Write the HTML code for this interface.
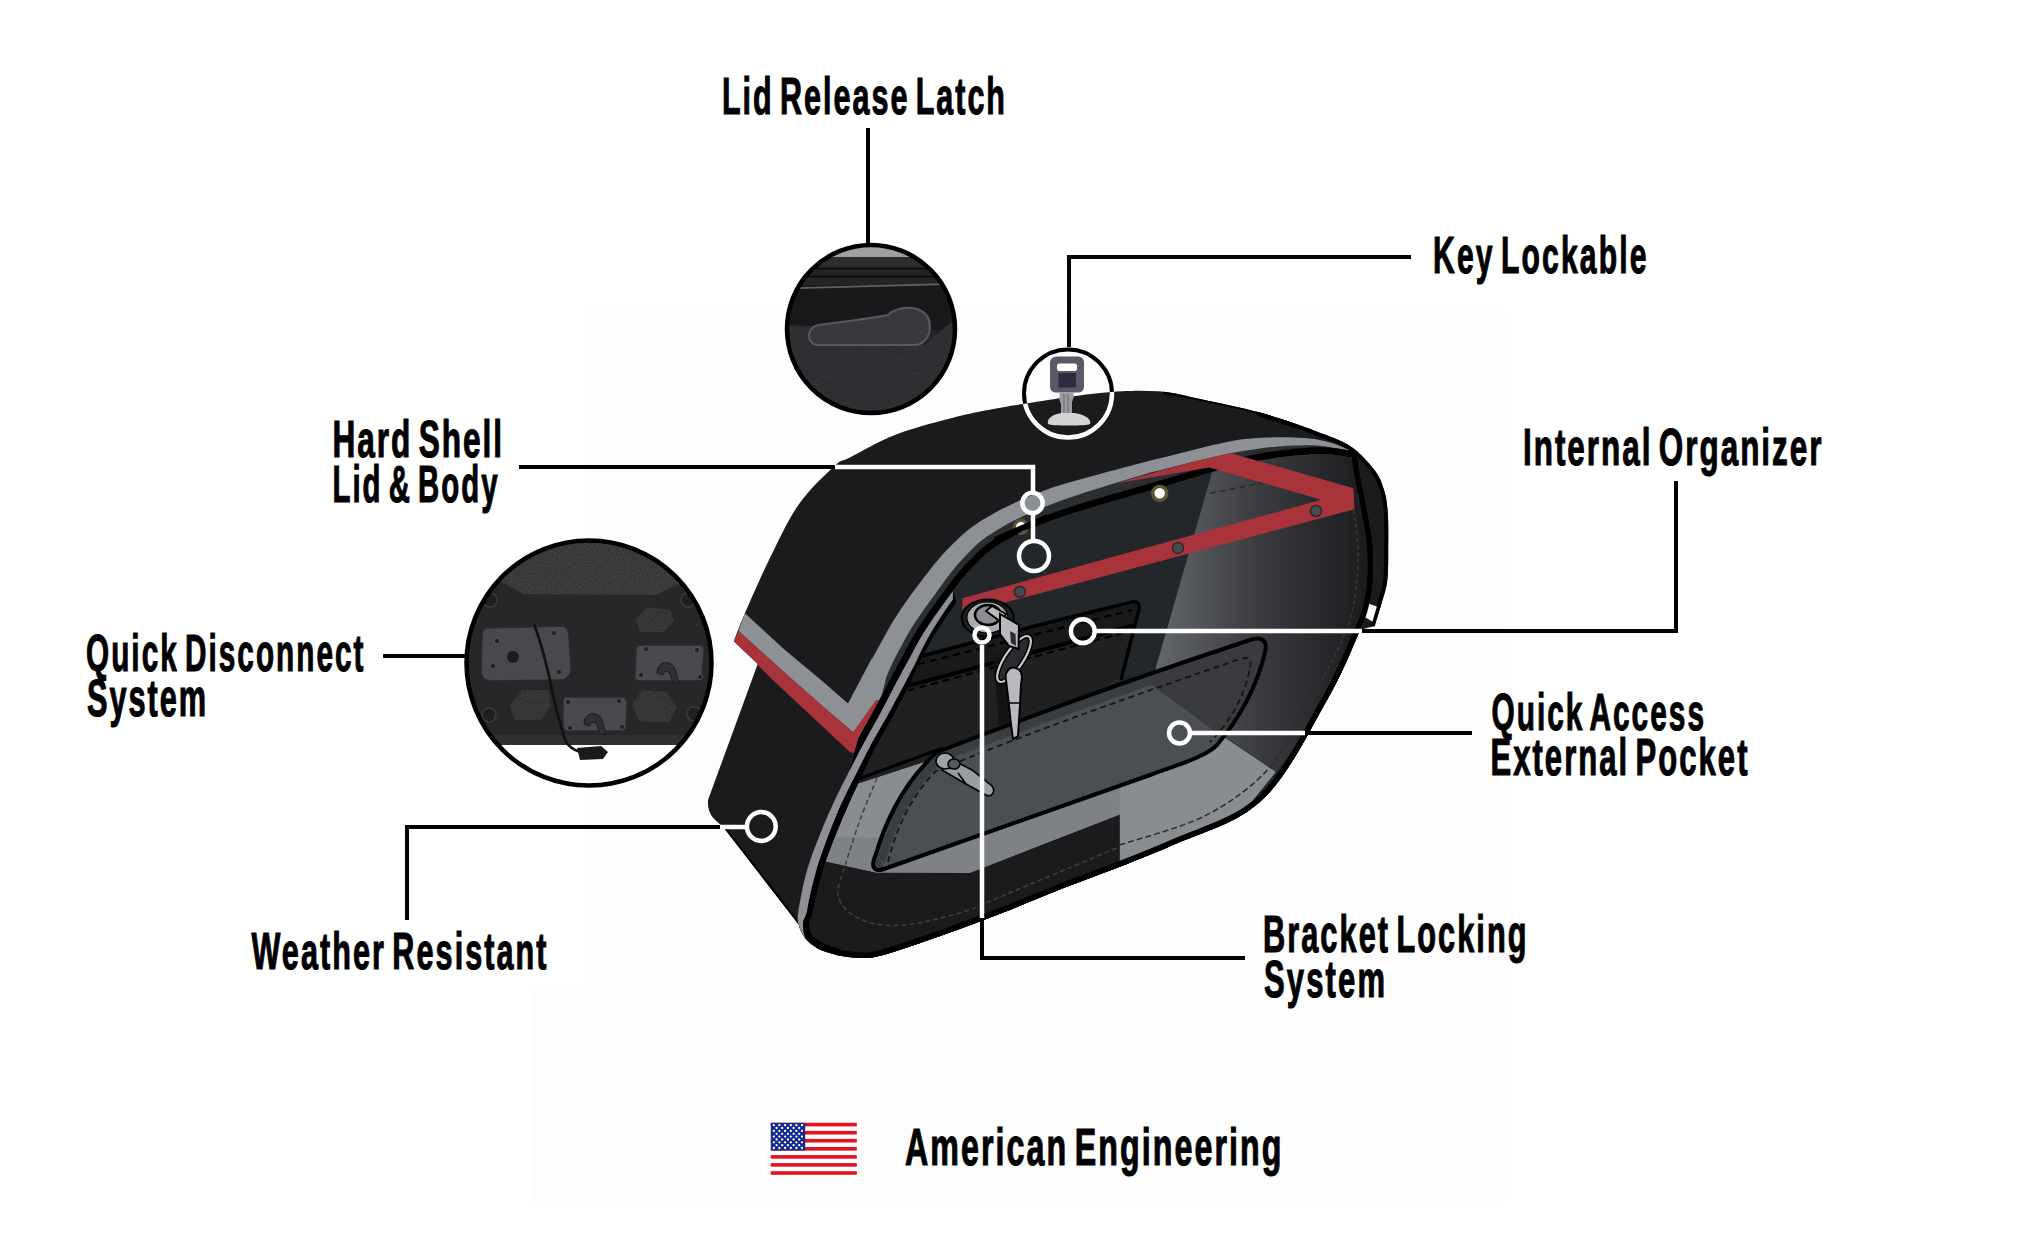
<!DOCTYPE html>
<html><head><meta charset="utf-8">
<style>
html,body{margin:0;padding:0;background:#fff;width:2044px;height:1248px;overflow:hidden}
svg{display:block}
.t{font-family:"Liberation Sans",sans-serif;font-weight:bold;fill:#000}
</style></head><body>
<svg width="2044" height="1248" viewBox="0 0 2044 1248">
<rect x="585" y="310" width="920" height="893" fill="#fdfdfd"/>
<rect x="533" y="990" width="60" height="213" fill="#fdfdfd"/>
<g id="bag">
<defs><clipPath id="silclip"><path d="M733.7 641.3 C735.6 636.6 739.0 626.8 744.9 613.2 C750.8 599.7 760.1 578.0 769.0 560.0 C777.9 542.0 787.4 520.7 798.3 505.0 C809.2 489.3 826.0 473.9 834.6 466.0 C843.2 458.1 839.9 462.7 850.0 457.5 C860.1 452.3 878.3 441.5 895.0 435.0 C911.7 428.5 931.7 423.2 950.0 418.5 C968.3 413.8 980.0 411.2 1005.0 407.0 C1030.0 402.8 1074.5 395.6 1100.0 393.0 C1125.5 390.4 1141.3 390.2 1158.0 391.2 C1174.7 392.2 1183.0 395.4 1200.0 399.0 C1217.0 402.6 1240.8 407.3 1260.0 412.6 C1279.2 417.9 1300.0 425.3 1315.0 430.9 C1330.0 436.5 1340.1 439.5 1350.0 446.0 C1359.9 452.5 1368.7 462.7 1374.4 470.0 C1380.1 477.3 1381.8 483.0 1384.0 490.0 C1386.2 497.0 1387.0 503.2 1387.7 512.0 C1388.4 520.8 1388.3 531.7 1388.2 543.0 C1388.1 554.3 1388.5 569.7 1387.3 580.0 C1386.1 590.3 1383.2 597.3 1381.0 605.0 C1378.8 612.7 1375.2 622.5 1374.0 626.0 L1360 630 C1354.5 641.7 1343.3 671.7 1327.0 700.0 C1310.7 728.3 1288.2 775.6 1262.0 800.0 C1235.8 824.4 1204.3 831.0 1170.0 846.2 C1135.7 861.4 1084.3 879.8 1056.0 891.0 C1027.7 902.2 1020.5 905.8 1000.0 913.7 C979.5 921.6 953.0 931.5 933.0 938.5 C913.0 945.5 892.4 952.6 880.0 955.8 C867.6 959.0 865.3 957.8 858.5 957.7 C851.7 957.7 845.4 957.0 839.0 955.5 C832.6 954.0 825.5 951.9 820.0 949.0 C814.5 946.1 809.5 942.0 806.0 938.0 C802.5 934.0 800.2 927.2 799.0 925.0 L723 826.7 C715 820 707 815 708 800 L757.7 664 Z"/></clipPath></defs>
<path d="M733.7 641.3 C735.6 636.6 739.0 626.8 744.9 613.2 C750.8 599.7 760.1 578.0 769.0 560.0 C777.9 542.0 787.4 520.7 798.3 505.0 C809.2 489.3 826.0 473.9 834.6 466.0 C843.2 458.1 839.9 462.7 850.0 457.5 C860.1 452.3 878.3 441.5 895.0 435.0 C911.7 428.5 931.7 423.2 950.0 418.5 C968.3 413.8 980.0 411.2 1005.0 407.0 C1030.0 402.8 1074.5 395.6 1100.0 393.0 C1125.5 390.4 1141.3 390.2 1158.0 391.2 C1174.7 392.2 1183.0 395.4 1200.0 399.0 C1217.0 402.6 1240.8 407.3 1260.0 412.6 C1279.2 417.9 1300.0 425.3 1315.0 430.9 C1330.0 436.5 1340.1 439.5 1350.0 446.0 C1359.9 452.5 1368.7 462.7 1374.4 470.0 C1380.1 477.3 1381.8 483.0 1384.0 490.0 C1386.2 497.0 1387.0 503.2 1387.7 512.0 C1388.4 520.8 1388.3 531.7 1388.2 543.0 C1388.1 554.3 1388.5 569.7 1387.3 580.0 C1386.1 590.3 1383.2 597.3 1381.0 605.0 C1378.8 612.7 1375.2 622.5 1374.0 626.0 L1360 630 C1354.5 641.7 1343.3 671.7 1327.0 700.0 C1310.7 728.3 1288.2 775.6 1262.0 800.0 C1235.8 824.4 1204.3 831.0 1170.0 846.2 C1135.7 861.4 1084.3 879.8 1056.0 891.0 C1027.7 902.2 1020.5 905.8 1000.0 913.7 C979.5 921.6 953.0 931.5 933.0 938.5 C913.0 945.5 892.4 952.6 880.0 955.8 C867.6 959.0 865.3 957.8 858.5 957.7 C851.7 957.7 845.4 957.0 839.0 955.5 C832.6 954.0 825.5 951.9 820.0 949.0 C814.5 946.1 809.5 942.0 806.0 938.0 C802.5 934.0 800.2 927.2 799.0 925.0 L723 826.7 C715 820 707 815 708 800 L757.7 664 Z" fill="#1b1b1d"/>
<path d="M1165 392.5 C1170.8 393.6 1184.2 395.6 1200.0 399.0 C1215.8 402.4 1240.8 407.3 1260.0 412.6 C1279.2 417.9 1305.8 427.8 1315.0 430.9" fill="none" stroke="#000" stroke-width="3.5" stroke-linecap="round" clip-path="url(#silclip)"/>
<path d="M1260 412.6 C1269.2 415.7 1300.0 425.3 1315.0 430.9 C1330.0 436.5 1340.1 439.5 1350.0 446.0 C1359.9 452.5 1368.7 462.7 1374.4 470.0 C1380.1 477.3 1381.8 483.0 1384.0 490.0 C1386.2 497.0 1387.0 503.2 1387.7 512.0 C1388.4 520.8 1388.3 531.7 1388.2 543.0 C1388.1 554.3 1388.5 569.7 1387.3 580.0 C1386.1 590.3 1383.2 597.3 1381.0 605.0 C1378.8 612.7 1375.2 622.5 1374.0 626.0" fill="none" stroke="#000" stroke-width="8" stroke-linecap="round" clip-path="url(#silclip)"/>
<path d="M723 826.7 L799 925" fill="none" stroke="#000" stroke-width="4" clip-path="url(#silclip)"/>
<path d="M744.9 613.2 L785 650 L821 680 L848 703.5 L872 658 L895 668 L876 712 L853 732.3 L827 710 L792.8 680 L738.5 630.9 Z" fill="#8d9094" clip-path="url(#silclip)"/>
<path d="M738.5 630.9 L792.8 680 L827 710 L853 732.3 L876 700 L900 702 L862 756 L850 752 L837 740 L772.8 680 L733.7 641.3 Z" fill="#a9333a" clip-path="url(#silclip)"/>
<path d="M1357.0 455.0 L1355.2 453.8 L1353.1 452.4 L1350.6 451.0 L1347.8 449.5 L1344.7 448.0 L1341.2 446.5 L1337.5 445.0 L1333.4 443.5 L1329.1 442.2 L1324.5 440.9 L1319.6 439.9 L1314.6 439.0 L1309.5 438.5 L1304.2 438.1 L1298.8 437.7 L1293.0 437.5 L1287.1 437.3 L1281.0 437.3 L1274.6 437.3 L1268.1 437.5 L1261.5 437.8 L1254.6 438.2 L1247.6 438.8 L1240.5 439.5 L1233.2 440.8 L1225.8 442.2 L1218.2 443.9 L1210.5 445.6 L1202.8 447.4 L1194.9 449.4 L1187.0 451.4 L1179.1 453.4 L1171.2 455.4 L1163.4 457.4 L1155.6 459.3 L1147.8 461.2 L1140.0 463.3 L1132.0 465.5 L1123.7 467.6 L1115.2 469.9 L1106.8 472.1 L1098.3 474.4 L1089.8 476.7 L1081.6 478.9 L1073.5 481.2 L1065.6 483.5 L1058.1 485.8 L1051.0 488.0 L1044.4 490.5 L1038.1 492.9 L1032.1 495.3 L1026.3 497.7 L1020.7 500.1 L1015.4 502.5 L1010.2 504.9 L1005.2 507.4 L1000.4 509.8 L995.7 512.3 L991.2 514.9 L986.8 517.5 L982.3 520.1 L978.1 522.7 L974.2 525.4 L970.5 528.1 L967.1 530.8 L963.9 533.4 L961.0 536.1 L958.2 538.7 L955.7 541.2 L953.2 543.6 L950.9 546.0 L948.4 548.4 L945.6 551.3 L942.8 554.3 L940.1 557.4 L937.5 560.5 L934.9 563.5 L932.5 566.5 L930.2 569.5 L927.9 572.4 L925.7 575.3 L923.5 578.1 L921.5 580.8 L919.4 583.4 L917.4 586.2 L915.3 589.0 L913.2 591.8 L911.2 594.6 L909.1 597.4 L907.1 600.2 L905.1 603.0 L903.2 605.8 L901.3 608.6 L899.4 611.4 L897.6 614.2 L895.8 617.0 L894.0 619.8 L892.2 622.7 L890.5 625.6 L888.9 628.4 L887.4 631.1 L885.9 633.8 L884.5 636.3 L883.2 638.7 L881.9 641.1 L880.7 643.2 L879.6 645.2 L878.5 647.1 L877.5 649.0 L876.6 650.7 L875.7 652.3 L874.9 653.7 L874.1 655.2 L873.4 656.6 L872.6 658.0 L871.8 659.5 L871.0 661.0 L870.1 662.6 L869.1 664.4 L868.1 666.4 L870.1 670.3 L872.2 674.3 L874.1 678.4 L876.1 682.5 L878.0 686.8 L879.9 691.0 L881.8 695.3 L880.4 698.0 L879.0 700.6 L877.6 703.2 L876.3 705.8 L874.9 708.3 L873.6 710.8 L872.2 713.3 L870.8 715.8 L869.5 718.3 L868.1 720.8 L866.7 723.3 L865.3 725.8 L863.9 728.3 L862.5 730.8 L861.1 733.3 L859.8 735.8 L858.4 738.4 L857.6 741.1 L856.8 743.9 L856.0 746.7 L855.2 749.5 L854.4 752.2 L853.7 755.0 L852.9 757.8 L852.1 760.5 L851.4 763.3 L850.6 766.1 L849.9 768.8 L849.1 771.6 L847.8 774.1 L846.6 776.5 L845.3 779.0 L844.1 781.4 L842.8 783.8 L841.6 786.3 L840.4 788.7 L839.1 791.2 L837.9 793.7 L836.6 796.2 L835.4 798.8 L834.2 801.5 L832.9 804.2 L831.7 807.0 L830.4 809.8 L829.1 812.7 L827.8 815.6 L826.6 818.6 L825.3 821.5 L824.0 824.5 L822.8 827.5 L821.6 830.4 L820.4 833.4 L819.3 836.3 L818.1 839.2 L817.0 842.1 L815.9 844.9 L814.8 847.7 L813.7 850.6 L812.6 853.4 L811.6 856.2 L810.6 859.1 L809.6 862.0 L808.7 864.9 L807.7 867.9 L806.9 870.9 L806.0 874.1 L805.1 877.5 L804.3 881.0 L803.4 884.6 L802.6 888.3 L801.9 891.9 L801.1 895.5 L800.5 898.9 L799.8 902.2 L799.3 905.3 L798.8 908.0 L798.5 910.5 L798.2 912.6 L798.0 914.4 L797.8 916.0 L797.7 917.3 L797.7 918.4 L797.7 919.4 L797.8 920.2 L797.9 921.1 L798.1 921.9 L798.3 922.9 L798.6 923.9 L798.9 925.1 L799.2 926.3 L799.6 927.5 L800.0 928.7 L800.5 929.9 L800.9 931.1 L801.5 932.3 L802.1 933.4 L802.7 934.5 L803.4 935.6 L804.1 936.7 L804.9 937.7 L805.7 938.7 L806.5 939.7 L807.5 940.7 L808.5 941.7 L809.6 942.6 L810.7 943.6 L811.8 944.5 L813.1 945.4 L814.3 946.3 L815.6 947.1 L816.9 947.9 L818.2 948.7 L819.6 949.4 L821.0 950.0 L822.5 950.7 L824.3 951.3 L826.1 952.0 L828.0 952.5 L829.9 953.1 L831.8 953.6 L833.6 954.1 L835.2 954.6 L836.7 955.0 L838.0 955.3 L839.0 955.7 L839 955.5 C842.2 955.9 851.7 957.7 858.5 957.7 C865.3 957.8 867.6 959.0 880.0 955.8 C892.4 952.6 913.0 945.5 933.0 938.5 C953.0 931.5 979.5 921.6 1000.0 913.7 C1020.5 905.8 1027.7 902.2 1056.0 891.0 C1084.3 879.8 1135.7 861.4 1170.0 846.2 C1204.3 831.0 1235.8 824.4 1262.0 800.0 C1288.2 775.6 1310.7 728.3 1327.0 700.0 C1343.3 671.7 1353.0 645.8 1360.0 630.0 C1367.0 614.2 1366.8 614.2 1369.0 605.0 C1371.2 595.8 1372.5 585.8 1373.0 575.0 C1373.5 564.2 1373.2 551.7 1372.0 540.0 C1370.8 528.3 1368.0 515.8 1366.0 505.0 C1364.0 494.2 1361.5 483.3 1360.0 475.0 C1358.5 466.7 1357.5 458.3 1357.0 455.0 Z" fill="#8d9094" />
<defs><clipPath id="lidouter"><path d="M1357.0 455.0 L1355.2 453.8 L1353.1 452.4 L1350.6 451.0 L1347.8 449.5 L1344.7 448.0 L1341.2 446.5 L1337.5 445.0 L1333.4 443.5 L1329.1 442.2 L1324.5 440.9 L1319.6 439.9 L1314.6 439.0 L1309.5 438.5 L1304.2 438.1 L1298.8 437.7 L1293.0 437.5 L1287.1 437.3 L1281.0 437.3 L1274.6 437.3 L1268.1 437.5 L1261.5 437.8 L1254.6 438.2 L1247.6 438.8 L1240.5 439.5 L1233.2 440.8 L1225.8 442.2 L1218.2 443.9 L1210.5 445.6 L1202.8 447.4 L1194.9 449.4 L1187.0 451.4 L1179.1 453.4 L1171.2 455.4 L1163.4 457.4 L1155.6 459.3 L1147.8 461.2 L1140.0 463.3 L1132.0 465.5 L1123.7 467.6 L1115.2 469.9 L1106.8 472.1 L1098.3 474.4 L1089.8 476.7 L1081.6 478.9 L1073.5 481.2 L1065.6 483.5 L1058.1 485.8 L1051.0 488.0 L1044.4 490.5 L1038.1 492.9 L1032.1 495.3 L1026.3 497.7 L1020.7 500.1 L1015.4 502.5 L1010.2 504.9 L1005.2 507.4 L1000.4 509.8 L995.7 512.3 L991.2 514.9 L986.8 517.5 L982.3 520.1 L978.1 522.7 L974.2 525.4 L970.5 528.1 L967.1 530.8 L963.9 533.4 L961.0 536.1 L958.2 538.7 L955.7 541.2 L953.2 543.6 L950.9 546.0 L948.4 548.4 L945.6 551.3 L942.8 554.3 L940.1 557.4 L937.5 560.5 L934.9 563.5 L932.5 566.5 L930.2 569.5 L927.9 572.4 L925.7 575.3 L923.5 578.1 L921.5 580.8 L919.4 583.4 L917.4 586.2 L915.3 589.0 L913.2 591.8 L911.2 594.6 L909.1 597.4 L907.1 600.2 L905.1 603.0 L903.2 605.8 L901.3 608.6 L899.4 611.4 L897.6 614.2 L895.8 617.0 L894.0 619.8 L892.2 622.7 L890.5 625.6 L888.9 628.4 L887.4 631.1 L885.9 633.8 L884.5 636.3 L883.2 638.7 L881.9 641.1 L880.7 643.2 L879.6 645.2 L878.5 647.1 L877.5 649.0 L876.6 650.7 L875.7 652.3 L874.9 653.7 L874.1 655.2 L873.4 656.6 L872.6 658.0 L871.8 659.5 L871.0 661.0 L870.1 662.6 L869.1 664.4 L868.1 666.4 L870.1 670.3 L872.2 674.3 L874.1 678.4 L876.1 682.5 L878.0 686.8 L879.9 691.0 L881.8 695.3 L880.4 698.0 L879.0 700.6 L877.6 703.2 L876.3 705.8 L874.9 708.3 L873.6 710.8 L872.2 713.3 L870.8 715.8 L869.5 718.3 L868.1 720.8 L866.7 723.3 L865.3 725.8 L863.9 728.3 L862.5 730.8 L861.1 733.3 L859.8 735.8 L858.4 738.4 L857.6 741.1 L856.8 743.9 L856.0 746.7 L855.2 749.5 L854.4 752.2 L853.7 755.0 L852.9 757.8 L852.1 760.5 L851.4 763.3 L850.6 766.1 L849.9 768.8 L849.1 771.6 L847.8 774.1 L846.6 776.5 L845.3 779.0 L844.1 781.4 L842.8 783.8 L841.6 786.3 L840.4 788.7 L839.1 791.2 L837.9 793.7 L836.6 796.2 L835.4 798.8 L834.2 801.5 L832.9 804.2 L831.7 807.0 L830.4 809.8 L829.1 812.7 L827.8 815.6 L826.6 818.6 L825.3 821.5 L824.0 824.5 L822.8 827.5 L821.6 830.4 L820.4 833.4 L819.3 836.3 L818.1 839.2 L817.0 842.1 L815.9 844.9 L814.8 847.7 L813.7 850.6 L812.6 853.4 L811.6 856.2 L810.6 859.1 L809.6 862.0 L808.7 864.9 L807.7 867.9 L806.9 870.9 L806.0 874.1 L805.1 877.5 L804.3 881.0 L803.4 884.6 L802.6 888.3 L801.9 891.9 L801.1 895.5 L800.5 898.9 L799.8 902.2 L799.3 905.3 L798.8 908.0 L798.5 910.5 L798.2 912.6 L798.0 914.4 L797.8 916.0 L797.7 917.3 L797.7 918.4 L797.7 919.4 L797.8 920.2 L797.9 921.1 L798.1 921.9 L798.3 922.9 L798.6 923.9 L798.9 925.1 L799.2 926.3 L799.6 927.5 L800.0 928.7 L800.5 929.9 L800.9 931.1 L801.5 932.3 L802.1 933.4 L802.7 934.5 L803.4 935.6 L804.1 936.7 L804.9 937.7 L805.7 938.7 L806.5 939.7 L807.5 940.7 L808.5 941.7 L809.6 942.6 L810.7 943.6 L811.8 944.5 L813.1 945.4 L814.3 946.3 L815.6 947.1 L816.9 947.9 L818.2 948.7 L819.6 949.4 L821.0 950.0 L822.5 950.7 L824.3 951.3 L826.1 952.0 L828.0 952.5 L829.9 953.1 L831.8 953.6 L833.6 954.1 L835.2 954.6 L836.7 955.0 L838.0 955.3 L839.0 955.7 L839 955.5 C842.2 955.9 851.7 957.7 858.5 957.7 C865.3 957.8 867.6 959.0 880.0 955.8 C892.4 952.6 913.0 945.5 933.0 938.5 C953.0 931.5 979.5 921.6 1000.0 913.7 C1020.5 905.8 1027.7 902.2 1056.0 891.0 C1084.3 879.8 1135.7 861.4 1170.0 846.2 C1204.3 831.0 1235.8 824.4 1262.0 800.0 C1288.2 775.6 1310.7 728.3 1327.0 700.0 C1343.3 671.7 1353.0 645.8 1360.0 630.0 C1367.0 614.2 1366.8 614.2 1369.0 605.0 C1371.2 595.8 1372.5 585.8 1373.0 575.0 C1373.5 564.2 1373.2 551.7 1372.0 540.0 C1370.8 528.3 1368.0 515.8 1366.0 505.0 C1364.0 494.2 1361.5 483.3 1360.0 475.0 C1358.5 466.7 1357.5 458.3 1357.0 455.0 Z"/></clipPath></defs>
<path d="M1357.0 455.0 L1355.1 454.3 L1352.9 453.5 L1350.3 452.6 L1347.5 451.6 L1344.3 450.6 L1340.8 449.6 L1337.0 448.6 L1333.0 447.7 L1328.7 446.9 L1324.3 446.2 L1319.6 445.7 L1314.8 445.3 L1309.9 445.2 L1304.8 445.3 L1299.4 445.4 L1293.8 445.6 L1288.1 445.8 L1282.1 446.2 L1276.0 446.7 L1269.6 447.3 L1263.2 448.1 L1256.6 448.9 L1249.9 449.9 L1243.0 451.0 L1236.0 452.2 L1228.7 453.6 L1221.3 455.2 L1213.7 456.9 L1206.0 458.7 L1198.2 460.5 L1190.4 462.5 L1182.5 464.5 L1174.6 466.5 L1166.7 468.4 L1158.9 470.4 L1151.1 472.3 L1143.3 474.7 L1135.3 477.1 L1127.1 479.6 L1118.7 482.1 L1110.3 484.6 L1102.0 487.2 L1093.7 489.8 L1085.6 492.3 L1077.7 494.9 L1070.1 497.4 L1062.8 499.9 L1056.0 502.4 L1049.6 504.9 L1043.5 507.3 L1037.7 509.7 L1032.1 512.1 L1026.7 514.5 L1021.6 516.9 L1016.7 519.3 L1011.9 521.7 L1007.4 524.1 L1003.1 526.6 L998.9 529.0 L994.9 531.5 L991.0 533.9 L987.3 536.3 L984.0 538.7 L980.9 541.1 L978.0 543.5 L975.3 546.0 L972.8 548.4 L970.4 550.8 L968.1 553.2 L965.8 555.6 L963.5 558.0 L961.2 560.5 L958.7 563.2 L956.2 566.0 L953.9 568.9 L951.5 571.8 L949.3 574.7 L947.1 577.6 L944.9 580.5 L942.8 583.4 L940.7 586.3 L938.7 589.1 L936.7 591.9 L934.7 594.7 L932.7 597.4 L930.7 600.1 L928.7 602.9 L926.7 605.6 L924.8 608.3 L922.9 611.1 L921.0 613.8 L919.1 616.5 L917.3 619.2 L915.5 621.8 L913.8 624.5 L912.1 627.1 L910.5 629.8 L908.9 632.4 L907.3 635.1 L905.8 637.7 L904.4 640.3 L903.0 642.9 L901.7 645.4 L900.4 647.8 L899.1 650.1 L897.9 652.3 L896.8 654.5 L895.7 656.5 L894.7 658.4 L893.9 660.2 L893.1 661.8 L892.4 663.3 L891.7 664.8 L891.1 666.2 L890.4 667.6 L889.7 669.1 L889.0 670.7 L888.2 672.3 L887.4 674.2 L886.5 676.2 L885.9 678.6 L885.3 681.2 L884.7 683.9 L884.0 686.6 L883.3 689.5 L882.5 692.4 L881.8 695.3 L880.4 698.0 L879.0 700.6 L877.6 703.2 L876.3 705.8 L874.9 708.3 L873.6 710.8 L872.2 713.3 L870.8 715.8 L869.5 718.3 L868.1 720.8 L866.7 723.3 L865.3 725.8 L863.9 728.3 L862.5 730.8 L861.1 733.3 L859.8 735.8 L858.4 738.4 L857.6 741.1 L856.8 743.9 L856.0 746.7 L855.2 749.5 L854.4 752.2 L853.7 755.0 L852.9 757.8 L852.1 760.5 L851.4 763.3 L850.6 766.1 L849.9 768.8 L849.1 771.6 L847.8 774.1 L846.6 776.5 L845.3 779.0 L844.1 781.4 L842.8 783.8 L841.6 786.3 L840.4 788.7 L839.1 791.2 L837.9 793.7 L836.6 796.2 L835.4 798.8 L834.2 801.5 L832.9 804.2 L831.7 807.0 L830.4 809.8 L829.1 812.7 L827.8 815.6 L826.6 818.6 L825.3 821.5 L824.0 824.5 L822.8 827.5 L821.6 830.4 L820.4 833.4 L819.3 836.3 L818.1 839.2 L817.0 842.1 L815.9 844.9 L814.8 847.7 L813.7 850.6 L812.6 853.4 L811.6 856.2 L810.6 859.1 L809.6 862.0 L808.7 864.9 L807.7 867.9 L806.9 870.9 L806.0 874.1 L805.1 877.5 L804.3 881.0 L803.4 884.6 L802.6 888.3 L801.9 891.9 L801.1 895.5 L800.5 898.9 L799.8 902.2 L799.3 905.3 L798.8 908.0 L798.5 910.5 L798.2 912.6 L798.0 914.4 L797.8 916.0 L797.7 917.3 L797.7 918.4 L797.7 919.4 L797.8 920.2 L797.9 921.1 L798.1 921.9 L798.3 922.9 L798.6 923.9 L798.9 925.1 L799.2 926.3 L799.6 927.5 L800.0 928.7 L800.5 929.9 L800.9 931.1 L801.5 932.3 L802.1 933.4 L802.7 934.5 L803.4 935.6 L804.1 936.7 L804.9 937.7 L805.7 938.7 L806.5 939.7 L807.5 940.7 L808.5 941.7 L809.6 942.6 L810.7 943.6 L811.8 944.5 L813.1 945.4 L814.3 946.3 L815.6 947.1 L816.9 947.9 L818.2 948.7 L819.6 949.4 L821.0 950.0 L822.5 950.7 L824.3 951.3 L826.1 952.0 L828.0 952.5 L829.9 953.1 L831.8 953.6 L833.6 954.1 L835.2 954.6 L836.7 955.0 L838.0 955.3 L839.0 955.7 L839 955.5 C842.2 955.9 851.7 957.7 858.5 957.7 C865.3 957.8 867.6 959.0 880.0 955.8 C892.4 952.6 913.0 945.5 933.0 938.5 C953.0 931.5 979.5 921.6 1000.0 913.7 C1020.5 905.8 1027.7 902.2 1056.0 891.0 C1084.3 879.8 1135.7 861.4 1170.0 846.2 C1204.3 831.0 1235.8 824.4 1262.0 800.0 C1288.2 775.6 1310.7 728.3 1327.0 700.0 C1343.3 671.7 1353.0 645.8 1360.0 630.0 C1367.0 614.2 1366.8 614.2 1369.0 605.0 C1371.2 595.8 1372.5 585.8 1373.0 575.0 C1373.5 564.2 1373.2 551.7 1372.0 540.0 C1370.8 528.3 1368.0 515.8 1366.0 505.0 C1364.0 494.2 1361.5 483.3 1360.0 475.0 C1358.5 466.7 1357.5 458.3 1357.0 455.0 Z" fill="#2b2e31" />
<defs><clipPath id="d1clip"><path d="M1357.0 455.0 L1355.1 454.3 L1352.9 453.5 L1350.3 452.6 L1347.5 451.6 L1344.3 450.6 L1340.8 449.6 L1337.0 448.6 L1333.0 447.7 L1328.7 446.9 L1324.3 446.2 L1319.6 445.7 L1314.8 445.3 L1309.9 445.2 L1304.8 445.3 L1299.4 445.4 L1293.8 445.6 L1288.1 445.8 L1282.1 446.2 L1276.0 446.7 L1269.6 447.3 L1263.2 448.1 L1256.6 448.9 L1249.9 449.9 L1243.0 451.0 L1236.0 452.2 L1228.7 453.6 L1221.3 455.2 L1213.7 456.9 L1206.0 458.7 L1198.2 460.5 L1190.4 462.5 L1182.5 464.5 L1174.6 466.5 L1166.7 468.4 L1158.9 470.4 L1151.1 472.3 L1143.3 474.7 L1135.3 477.1 L1127.1 479.6 L1118.7 482.1 L1110.3 484.6 L1102.0 487.2 L1093.7 489.8 L1085.6 492.3 L1077.7 494.9 L1070.1 497.4 L1062.8 499.9 L1056.0 502.4 L1049.6 504.9 L1043.5 507.3 L1037.7 509.7 L1032.1 512.1 L1026.7 514.5 L1021.6 516.9 L1016.7 519.3 L1011.9 521.7 L1007.4 524.1 L1003.1 526.6 L998.9 529.0 L994.9 531.5 L991.0 533.9 L987.3 536.3 L984.0 538.7 L980.9 541.1 L978.0 543.5 L975.3 546.0 L972.8 548.4 L970.4 550.8 L968.1 553.2 L965.8 555.6 L963.5 558.0 L961.2 560.5 L958.7 563.2 L956.2 566.0 L953.9 568.9 L951.5 571.8 L949.3 574.7 L947.1 577.6 L944.9 580.5 L942.8 583.4 L940.7 586.3 L938.7 589.1 L936.7 591.9 L934.7 594.7 L932.7 597.4 L930.7 600.1 L928.7 602.9 L926.7 605.6 L924.8 608.3 L922.9 611.1 L921.0 613.8 L919.1 616.5 L917.3 619.2 L915.5 621.8 L913.8 624.5 L912.1 627.1 L910.5 629.8 L908.9 632.4 L907.3 635.1 L905.8 637.7 L904.4 640.3 L903.0 642.9 L901.7 645.4 L900.4 647.8 L899.1 650.1 L897.9 652.3 L896.8 654.5 L895.7 656.5 L894.7 658.4 L893.9 660.2 L893.1 661.8 L892.4 663.3 L891.7 664.8 L891.1 666.2 L890.4 667.6 L889.7 669.1 L889.0 670.7 L888.2 672.3 L887.4 674.2 L886.5 676.2 L885.9 678.6 L885.3 681.2 L884.7 683.9 L884.0 686.6 L883.3 689.5 L882.5 692.4 L881.8 695.3 L880.4 698.0 L879.0 700.6 L877.6 703.2 L876.3 705.8 L874.9 708.3 L873.6 710.8 L872.2 713.3 L870.8 715.8 L869.5 718.3 L868.1 720.8 L866.7 723.3 L865.3 725.8 L863.9 728.3 L862.5 730.8 L861.1 733.3 L859.8 735.8 L858.4 738.4 L857.6 741.1 L856.8 743.9 L856.0 746.7 L855.2 749.5 L854.4 752.2 L853.7 755.0 L852.9 757.8 L852.1 760.5 L851.4 763.3 L850.6 766.1 L849.9 768.8 L849.1 771.6 L847.8 774.1 L846.6 776.5 L845.3 779.0 L844.1 781.4 L842.8 783.8 L841.6 786.3 L840.4 788.7 L839.1 791.2 L837.9 793.7 L836.6 796.2 L835.4 798.8 L834.2 801.5 L832.9 804.2 L831.7 807.0 L830.4 809.8 L829.1 812.7 L827.8 815.6 L826.6 818.6 L825.3 821.5 L824.0 824.5 L822.8 827.5 L821.6 830.4 L820.4 833.4 L819.3 836.3 L818.1 839.2 L817.0 842.1 L815.9 844.9 L814.8 847.7 L813.7 850.6 L812.6 853.4 L811.6 856.2 L810.6 859.1 L809.6 862.0 L808.7 864.9 L807.7 867.9 L806.9 870.9 L806.0 874.1 L805.1 877.5 L804.3 881.0 L803.4 884.6 L802.6 888.3 L801.9 891.9 L801.1 895.5 L800.5 898.9 L799.8 902.2 L799.3 905.3 L798.8 908.0 L798.5 910.5 L798.2 912.6 L798.0 914.4 L797.8 916.0 L797.7 917.3 L797.7 918.4 L797.7 919.4 L797.8 920.2 L797.9 921.1 L798.1 921.9 L798.3 922.9 L798.6 923.9 L798.9 925.1 L799.2 926.3 L799.6 927.5 L800.0 928.7 L800.5 929.9 L800.9 931.1 L801.5 932.3 L802.1 933.4 L802.7 934.5 L803.4 935.6 L804.1 936.7 L804.9 937.7 L805.7 938.7 L806.5 939.7 L807.5 940.7 L808.5 941.7 L809.6 942.6 L810.7 943.6 L811.8 944.5 L813.1 945.4 L814.3 946.3 L815.6 947.1 L816.9 947.9 L818.2 948.7 L819.6 949.4 L821.0 950.0 L822.5 950.7 L824.3 951.3 L826.1 952.0 L828.0 952.5 L829.9 953.1 L831.8 953.6 L833.6 954.1 L835.2 954.6 L836.7 955.0 L838.0 955.3 L839.0 955.7 L839 955.5 C842.2 955.9 851.7 957.7 858.5 957.7 C865.3 957.8 867.6 959.0 880.0 955.8 C892.4 952.6 913.0 945.5 933.0 938.5 C953.0 931.5 979.5 921.6 1000.0 913.7 C1020.5 905.8 1027.7 902.2 1056.0 891.0 C1084.3 879.8 1135.7 861.4 1170.0 846.2 C1204.3 831.0 1235.8 824.4 1262.0 800.0 C1288.2 775.6 1310.7 728.3 1327.0 700.0 C1343.3 671.7 1353.0 645.8 1360.0 630.0 C1367.0 614.2 1366.8 614.2 1369.0 605.0 C1371.2 595.8 1372.5 585.8 1373.0 575.0 C1373.5 564.2 1373.2 551.7 1372.0 540.0 C1370.8 528.3 1368.0 515.8 1366.0 505.0 C1364.0 494.2 1361.5 483.3 1360.0 475.0 C1358.5 466.7 1357.5 458.3 1357.0 455.0 Z"/></clipPath></defs>
<path d="M1357.4 451.5 L1355.6 451.3 L1353.3 450.9 L1350.7 450.5 L1347.7 450.0 L1344.5 449.4 L1340.9 448.9 L1337.0 448.3 L1333.0 447.9 L1328.7 447.5 L1324.2 447.3 L1319.6 447.2 L1314.9 447.3 L1310.0 447.6 L1304.9 447.9 L1299.6 448.3 L1294.1 448.8 L1288.4 449.4 L1282.6 450.1 L1276.5 450.9 L1270.3 451.8 L1264.0 452.8 L1257.5 453.9 L1250.9 455.2 L1244.2 456.6 L1237.4 458.2 L1230.3 459.9 L1223.1 461.8 L1215.7 463.9 L1208.2 466.0 L1200.6 468.3 L1192.9 470.6 L1185.1 473.0 L1177.3 475.4 L1169.5 477.7 L1161.7 480.1 L1154.0 482.3 L1146.2 484.6 L1138.1 486.9 L1129.8 489.3 L1121.5 491.7 L1113.0 494.1 L1104.7 496.5 L1096.4 498.9 L1088.3 501.3 L1080.4 503.7 L1072.8 506.1 L1065.6 508.4 L1058.9 510.7 L1052.5 513.0 L1046.4 515.2 L1040.6 517.4 L1035.0 519.5 L1029.7 521.7 L1024.6 523.9 L1019.7 526.0 L1015.0 528.2 L1010.5 530.3 L1006.2 532.5 L1002.0 534.7 L998.0 537.0 L994.3 539.2 L990.8 541.5 L987.6 543.7 L984.7 546.0 L982.0 548.2 L979.4 550.5 L977.0 552.7 L974.6 555.0 L972.4 557.4 L970.1 559.7 L967.8 562.1 L965.5 564.6 L963.0 567.2 L960.6 569.9 L958.3 572.6 L956.0 575.4 L953.8 578.2 L951.6 581.1 L949.5 583.9 L947.3 586.8 L945.3 589.6 L943.2 592.4 L941.2 595.2 L939.2 597.9 L937.2 600.6 L935.2 603.4 L933.2 606.1 L931.3 608.8 L929.4 611.6 L927.5 614.3 L925.6 617.0 L923.8 619.6 L922.1 622.3 L920.3 624.9 L918.7 627.6 L917.0 630.2 L915.4 632.8 L913.9 635.4 L912.4 638.0 L910.9 640.6 L909.5 643.1 L908.2 645.7 L906.9 648.1 L905.6 650.6 L904.4 652.9 L903.2 655.1 L902.0 657.3 L900.9 659.3 L899.9 661.2 L898.9 662.9 L898.1 664.5 L897.3 666.0 L896.5 667.4 L895.8 668.8 L895.0 670.1 L894.2 671.6 L893.4 673.1 L892.6 674.7 L891.6 676.4 L890.6 678.4 L889.5 680.5 L888.3 682.7 L887.1 685.1 L885.8 687.6 L884.5 690.1 L883.1 692.7 L881.8 695.3 L880.4 698.0 L879.0 700.6 L877.6 703.2 L876.3 705.8 L874.9 708.3 L873.6 710.8 L872.2 713.3 L870.8 715.8 L869.5 718.3 L868.1 720.8 L866.7 723.3 L865.3 725.8 L863.9 728.3 L862.5 730.8 L861.1 733.3 L859.8 735.8 L858.4 738.4 L857.6 741.1 L856.8 743.9 L856.0 746.7 L855.2 749.5 L854.4 752.2 L853.7 755.0 L852.9 757.8 L852.1 760.5 L851.4 763.3 L850.6 766.1 L849.9 768.8 L849.1 771.6 L847.8 774.1 L846.6 776.5 L845.3 779.0 L844.1 781.4 L842.8 783.8 L841.6 786.3 L840.4 788.7 L839.1 791.2 L837.9 793.7 L836.6 796.2 L835.4 798.8 L834.2 801.5 L832.9 804.2 L831.7 807.0 L830.4 809.8 L829.1 812.7 L827.8 815.6 L826.6 818.6 L825.3 821.5 L824.0 824.5 L822.8 827.5 L821.6 830.4 L820.4 833.4 L819.3 836.3 L818.1 839.2 L817.0 842.1 L815.9 844.9 L814.8 847.7 L813.7 850.6 L812.6 853.4 L811.6 856.2 L810.6 859.1 L809.6 862.0 L808.7 864.9 L807.7 867.9 L806.9 870.9 L806.0 874.1 L805.1 877.5 L804.3 881.0 L803.4 884.6 L802.6 888.3 L801.9 891.9 L801.1 895.5 L800.5 898.9 L799.8 902.2 L799.3 905.3 L798.8 908.0 L798.5 910.5 L798.2 912.6 L798.0 914.4 L797.8 916.0 L797.7 917.3 L797.7 918.4 L797.7 919.4 L797.8 920.2 L797.9 921.1 L798.1 921.9 L798.3 922.9 L798.6 923.9 L798.9 925.1 L799.2 926.3 L799.6 927.5 L800.0 928.7 L800.5 929.9 L800.9 931.1 L801.5 932.3 L802.1 933.4 L802.7 934.5 L803.4 935.6 L804.1 936.7 L804.9 937.7 L805.7 938.7 L806.5 939.7 L807.5 940.7 L808.5 941.7 L809.6 942.6 L810.7 943.6 L811.8 944.5 L813.1 945.4 L814.3 946.3 L815.6 947.1 L816.9 947.9 L818.2 948.7 L819.6 949.4 L821.0 950.0 L822.5 950.7 L824.3 951.3 L826.1 952.0 L828.0 952.5 L829.9 953.1 L831.8 953.6 L833.6 954.1 L835.2 954.6 L836.7 955.0 L838.0 955.3 L839.0 955.7 L839 955.5 C842.2 955.9 851.7 957.7 858.5 957.7 C865.3 957.8 867.6 959.0 880.0 955.8 C892.4 952.6 913.0 945.5 933.0 938.5 C953.0 931.5 979.5 921.6 1000.0 913.7 C1020.5 905.8 1027.7 902.2 1056.0 891.0 C1084.3 879.8 1135.7 861.4 1170.0 846.2 C1204.3 831.0 1235.8 824.4 1262.0 800.0 C1288.2 775.6 1310.7 728.3 1327.0 700.0 C1343.3 671.7 1353.0 645.8 1360.0 630.0 C1367.0 614.2 1366.8 614.2 1369.0 605.0 C1371.2 595.8 1372.5 585.8 1373.0 575.0 C1373.5 564.2 1373.2 551.7 1372.0 540.0 C1370.8 528.3 1368.0 515.8 1366.0 505.0 C1364.0 494.2 1361.5 483.3 1360.0 475.0 C1358.5 466.7 1357.5 458.3 1357.0 455.0 Z" fill="#000" />
<path d="M1356.6 458.5 L1354.6 458.2 L1352.2 457.8 L1349.5 457.4 L1346.6 456.9 L1343.3 456.3 L1339.9 455.8 L1336.2 455.3 L1332.3 454.8 L1328.2 454.5 L1324.0 454.3 L1319.6 454.2 L1315.1 454.3 L1310.4 454.5 L1305.4 454.9 L1300.2 455.3 L1294.8 455.7 L1289.2 456.3 L1283.4 457.0 L1277.5 457.8 L1271.4 458.7 L1265.1 459.7 L1258.8 460.8 L1252.3 462.0 L1245.8 463.4 L1239.0 465.0 L1232.1 466.7 L1224.9 468.6 L1217.6 470.6 L1210.2 472.8 L1202.6 475.0 L1194.9 477.3 L1187.1 479.7 L1179.3 482.1 L1171.5 484.4 L1163.7 486.8 L1156.0 489.1 L1148.1 491.3 L1140.0 493.7 L1131.7 496.0 L1123.4 498.4 L1115.0 500.8 L1106.6 503.2 L1098.4 505.6 L1090.3 508.0 L1082.5 510.4 L1074.9 512.7 L1067.8 515.0 L1061.1 517.3 L1054.9 519.5 L1048.8 521.7 L1043.1 523.9 L1037.6 526.1 L1032.3 528.2 L1027.3 530.3 L1022.5 532.4 L1018.0 534.5 L1013.6 536.6 L1009.4 538.7 L1005.4 540.9 L1001.6 543.0 L998.0 545.2 L994.8 547.3 L991.8 549.4 L989.1 551.4 L986.5 553.5 L984.1 555.7 L981.8 557.8 L979.6 560.0 L977.4 562.2 L975.2 564.6 L972.9 567.0 L970.5 569.4 L968.2 571.9 L965.9 574.5 L963.7 577.1 L961.5 579.8 L959.3 582.5 L957.2 585.3 L955.1 588.1 L953.0 590.9 L950.9 593.7 L948.9 596.6 L946.8 599.3 L944.8 602.1 L942.8 604.8 L940.9 607.5 L938.9 610.2 L937.0 612.9 L935.1 615.6 L933.3 618.2 L931.4 620.9 L929.6 623.5 L927.9 626.2 L926.2 628.8 L924.6 631.3 L923.0 633.8 L921.4 636.4 L919.9 638.9 L918.5 641.4 L917.1 644.0 L915.7 646.5 L914.4 649.0 L913.1 651.4 L911.8 653.8 L910.6 656.2 L909.4 658.4 L908.2 660.6 L907.1 662.7 L906.0 664.6 L905.1 666.3 L904.2 667.9 L903.4 669.3 L902.6 670.7 L901.9 672.1 L901.2 673.5 L900.4 674.9 L899.6 676.4 L898.7 678.0 L897.8 679.7 L896.8 681.6 L895.7 683.7 L894.5 686.0 L893.3 688.3 L892.0 690.8 L890.7 693.3 L889.3 695.9 L888.0 698.6 L886.6 701.2 L885.2 703.9 L883.8 706.5 L882.4 709.1 L881.1 711.7 L879.7 714.2 L878.4 716.7 L877.0 719.2 L875.6 721.7 L874.2 724.2 L872.8 726.7 L871.4 729.2 L870.0 731.7 L868.6 734.2 L867.3 736.7 L865.9 739.2 L864.6 741.6 L863.3 744.1 L862.0 746.6 L860.6 749.1 L859.3 751.6 L858.1 754.1 L856.8 756.6 L855.5 759.1 L854.2 761.6 L852.9 764.1 L851.7 766.6 L850.4 769.1 L849.1 771.6 L847.8 774.1 L846.6 776.5 L845.3 779.0 L844.1 781.4 L842.8 783.8 L841.6 786.3 L840.4 788.7 L839.1 791.2 L837.9 793.7 L836.6 796.2 L835.4 798.8 L834.2 801.5 L832.9 804.2 L831.7 807.0 L830.4 809.8 L829.1 812.7 L827.8 815.6 L826.6 818.6 L825.3 821.5 L824.0 824.5 L822.8 827.5 L821.6 830.4 L820.4 833.4 L819.3 836.3 L818.1 839.2 L817.0 842.1 L815.9 844.9 L814.8 847.7 L813.7 850.6 L812.6 853.4 L811.6 856.2 L810.6 859.1 L809.6 862.0 L808.7 864.9 L807.7 867.9 L806.9 870.9 L806.0 874.1 L805.1 877.5 L804.3 881.0 L803.4 884.6 L802.6 888.3 L801.9 891.9 L801.1 895.5 L800.5 898.9 L799.8 902.2 L799.3 905.3 L798.8 908.0 L798.5 910.5 L798.2 912.6 L798.0 914.4 L797.8 916.0 L797.7 917.3 L797.7 918.4 L797.7 919.4 L797.8 920.2 L797.9 921.1 L798.1 921.9 L798.3 922.9 L798.6 923.9 L798.9 925.1 L799.2 926.3 L799.6 927.5 L800.0 928.7 L800.5 929.9 L800.9 931.1 L801.5 932.3 L802.1 933.4 L802.7 934.5 L803.4 935.6 L804.1 936.7 L804.9 937.7 L805.7 938.7 L806.5 939.7 L807.5 940.7 L808.5 941.7 L809.6 942.6 L810.7 943.6 L811.8 944.5 L813.1 945.4 L814.3 946.3 L815.6 947.1 L816.9 947.9 L818.2 948.7 L819.6 949.4 L821.0 950.0 L822.5 950.7 L824.3 951.3 L826.1 952.0 L828.0 952.5 L829.9 953.1 L831.8 953.6 L833.6 954.1 L835.2 954.6 L836.7 955.0 L838.0 955.3 L839.0 955.7 L839 955.5 C842.2 955.9 851.7 957.7 858.5 957.7 C865.3 957.8 867.6 959.0 880.0 955.8 C892.4 952.6 913.0 945.5 933.0 938.5 C953.0 931.5 979.5 921.6 1000.0 913.7 C1020.5 905.8 1027.7 902.2 1056.0 891.0 C1084.3 879.8 1135.7 861.4 1170.0 846.2 C1204.3 831.0 1235.8 824.4 1262.0 800.0 C1288.2 775.6 1310.7 728.3 1327.0 700.0 C1343.3 671.7 1353.0 645.8 1360.0 630.0 C1367.0 614.2 1366.8 614.2 1369.0 605.0 C1371.2 595.8 1372.5 585.8 1373.0 575.0 C1373.5 564.2 1373.2 551.7 1372.0 540.0 C1370.8 528.3 1368.0 515.8 1366.0 505.0 C1364.0 494.2 1361.5 483.3 1360.0 475.0 C1358.5 466.7 1357.5 458.3 1357.0 455.0 Z" fill="#8d9094" />
<path d="M1356.6 458.5 L1354.6 458.2 L1352.2 457.8 L1349.5 457.4 L1346.6 456.9 L1343.3 456.3 L1339.9 455.8 L1336.2 455.3 L1332.3 454.8 L1328.2 454.5 L1324.0 454.3 L1319.6 454.2 L1315.1 454.3 L1310.4 454.5 L1305.4 454.9 L1300.2 455.3 L1294.8 455.7 L1289.2 456.3 L1283.4 457.0 L1277.5 457.8 L1271.4 458.7 L1265.1 459.7 L1258.8 460.8 L1252.3 462.0 L1245.8 463.4 L1239.0 465.0 L1232.1 466.7 L1224.9 468.6 L1217.6 470.6 L1210.2 472.8 L1202.6 475.0 L1194.9 477.3 L1187.1 479.7 L1179.3 482.1 L1171.5 484.4 L1163.7 486.8 L1156.0 489.1 L1148.1 491.3 L1140.0 493.7 L1131.7 496.0 L1123.4 498.4 L1115.0 500.8 L1106.6 503.2 L1098.4 505.6 L1090.3 508.0 L1082.5 510.4 L1074.9 512.7 L1067.8 515.0 L1061.1 517.3 L1054.9 519.5 L1048.8 521.7 L1043.1 523.9 L1037.6 526.1 L1032.3 528.2 L1027.3 530.3 L1022.5 532.4 L1018.0 534.5 L1013.6 536.6 L1009.4 538.7 L1005.4 540.9 L1001.6 543.0 L998.0 545.2 L994.8 547.3 L991.8 549.4 L989.1 551.4 L986.5 553.5 L984.1 555.7 L981.8 557.8 L979.6 560.0 L977.4 562.2 L975.2 564.6 L972.9 567.0 L970.5 569.4 L968.2 571.9 L965.9 574.5 L963.7 577.1 L961.5 579.8 L959.3 582.5 L957.2 585.3 L955.1 588.1 L953.0 590.9 L952.9 595.2 L952.9 599.5 L950.9 602.3 L948.8 605.0 L947.0 607.8 L945.1 610.5 L943.3 613.3 L941.5 616.0 L939.7 618.7 L937.9 621.5 L936.2 624.2 L934.5 626.8 L932.9 629.5 L931.4 632.1 L929.8 634.7 L928.4 637.2 L927.0 639.7 L925.6 642.2 L924.3 644.7 L923.0 647.2 L921.8 649.8 L920.5 652.3 L919.4 654.8 L918.2 657.2 L917.1 659.6 L916.0 661.9 L914.9 664.2 L913.8 666.4 L912.8 668.3 L911.9 670.0 L911.0 671.6 L910.3 673.1 L909.5 674.5 L908.8 675.9 L908.1 677.2 L907.4 678.6 L906.6 680.1 L905.8 681.7 L904.9 683.5 L903.9 685.4 L902.7 687.4 L901.5 689.7 L900.3 692.0 L899.0 694.4 L897.6 696.9 L896.2 699.5 L894.8 702.1 L893.4 704.8 L892.0 707.4 L890.5 710.0 L889.1 712.6 L887.7 715.2 L886.3 717.7 L884.9 720.2 L883.4 722.8 L882.0 725.3 L880.6 727.8 L879.1 730.2 L877.7 732.7 L876.3 735.2 L874.9 737.6 L873.5 740.1 L872.1 742.5 L870.8 744.9 L869.5 747.4 L868.2 749.9 L866.9 752.4 L865.6 754.9 L864.4 757.4 L863.1 759.9 L861.8 762.4 L860.6 764.9 L859.3 767.4 L858.1 769.9 L856.8 772.4 L855.6 774.9 L854.3 777.4 L853.1 779.9 L851.8 782.3 L850.6 784.8 L849.4 787.2 L848.2 789.6 L847.0 792.0 L845.8 794.5 L844.6 797.0 L843.4 799.5 L842.2 802.0 L841.0 804.6 L839.8 807.3 L838.6 810.1 L837.4 813.0 L836.2 815.8 L835.0 818.7 L833.8 821.7 L832.6 824.6 L831.4 827.6 L830.3 830.5 L829.1 833.5 L828.0 836.4 L826.9 839.3 L825.8 842.2 L824.8 845.1 L823.7 848.0 L822.7 850.8 L821.7 853.6 L820.7 856.4 L819.8 859.2 L818.9 862.0 L818.0 864.8 L817.1 867.6 L816.3 870.5 L815.5 873.4 L814.7 876.4 L813.8 879.7 L812.9 883.1 L812.1 886.6 L811.2 890.1 L810.4 893.7 L809.7 897.2 L809.0 900.6 L808.3 903.7 L807.8 906.7 L807.3 909.4 L806.9 911.7 L806.3 913.6 L805.7 915.3 L805.2 916.6 L804.8 917.6 L804.4 918.4 L804.1 919.0 L803.8 919.6 L803.5 920.1 L803.3 920.8 L803.1 921.7 L803.0 922.8 L803.0 924.0 L803.0 925.2 L803.0 926.4 L803.0 927.6 L803.1 928.8 L803.2 930.1 L803.4 931.3 L803.6 932.6 L803.9 933.8 L804.3 935.1 L804.7 936.3 L805.1 937.5 L805.7 938.7 L806.5 939.7 L807.5 940.7 L808.5 941.7 L809.6 942.6 L810.7 943.6 L811.8 944.5 L813.1 945.4 L814.3 946.3 L815.6 947.1 L816.9 947.9 L818.2 948.7 L819.6 949.4 L821.0 950.0 L822.5 950.7 L824.3 951.3 L826.1 952.0 L828.0 952.5 L829.9 953.1 L831.8 953.6 L833.6 954.1 L835.2 954.6 L836.7 955.0 L838.0 955.3 L839.0 955.7 L839 955.5 C842.2 955.9 851.7 957.7 858.5 957.7 C865.3 957.8 867.6 959.0 880.0 955.8 C892.4 952.6 913.0 945.5 933.0 938.5 C953.0 931.5 979.5 921.6 1000.0 913.7 C1020.5 905.8 1027.7 902.2 1056.0 891.0 C1084.3 879.8 1135.7 861.4 1170.0 846.2 C1204.3 831.0 1235.8 824.4 1262.0 800.0 C1288.2 775.6 1310.7 728.3 1327.0 700.0 C1343.3 671.7 1353.0 645.8 1360.0 630.0 C1367.0 614.2 1366.8 614.2 1369.0 605.0 C1371.2 595.8 1372.5 585.8 1373.0 575.0 C1373.5 564.2 1373.2 551.7 1372.0 540.0 C1370.8 528.3 1368.0 515.8 1366.0 505.0 C1364.0 494.2 1361.5 483.3 1360.0 475.0 C1358.5 466.7 1357.5 458.3 1357.0 455.0 Z" fill="#000" />
<path d="M1356.6 458.5 L1354.6 458.2 L1352.2 457.8 L1349.5 457.4 L1346.6 456.9 L1343.3 456.3 L1339.9 455.8 L1336.2 455.3 L1332.3 454.8 L1328.2 454.5 L1324.0 454.3 L1319.6 454.2 L1315.1 454.3 L1310.4 454.5 L1305.4 454.9 L1300.2 455.3 L1294.8 455.7 L1289.2 456.3 L1283.4 457.0 L1277.5 457.8 L1271.4 458.7 L1265.1 459.7 L1258.8 460.8 L1252.3 462.0 L1245.8 463.4 L1239.0 465.0 L1232.1 466.7 L1224.9 468.6 L1217.6 470.6 L1210.2 472.8 L1202.6 475.0 L1194.9 477.3 L1187.1 479.7 L1179.3 482.1 L1171.5 484.4 L1163.7 486.8 L1156.0 489.1 L1148.1 491.3 L1140.0 493.7 L1131.7 496.0 L1123.4 498.4 L1115.0 500.8 L1106.6 503.2 L1098.4 505.6 L1090.3 508.0 L1082.5 510.4 L1074.9 512.7 L1067.8 515.0 L1061.1 517.3 L1054.9 519.5 L1048.8 521.7 L1043.1 523.9 L1037.6 526.1 L1032.3 528.2 L1027.3 530.3 L1022.5 532.4 L1018.0 534.5 L1013.6 536.6 L1009.4 538.7 L1005.4 540.9 L1001.6 543.0 L998.0 545.2 L994.8 547.3 L991.8 549.4 L989.1 551.4 L986.5 553.5 L984.1 555.7 L981.8 557.8 L979.6 560.0 L977.4 562.2 L975.2 564.6 L972.9 567.0 L970.5 569.4 L968.2 571.9 L965.9 574.5 L963.7 577.1 L961.5 579.8 L959.3 582.5 L957.2 585.3 L955.1 588.1 L953.0 590.9 L954.7 596.5 L956.5 602.1 L954.5 604.9 L952.5 607.7 L950.6 610.4 L948.7 613.1 L946.8 615.8 L945.0 618.5 L943.2 621.2 L941.4 623.9 L939.7 626.5 L938.0 629.2 L936.4 631.8 L934.8 634.3 L933.3 636.9 L931.8 639.3 L930.4 641.8 L929.1 644.2 L927.7 646.7 L926.4 649.1 L925.2 651.6 L923.9 654.1 L922.7 656.5 L921.5 658.9 L920.4 661.3 L919.2 663.6 L918.1 665.9 L917.0 668.1 L916.1 670.1 L915.2 671.9 L914.5 673.5 L913.8 675.0 L913.2 676.5 L912.6 677.9 L912.0 679.3 L911.3 680.8 L910.7 682.3 L910.0 684.0 L909.2 685.8 L908.3 687.7 L907.2 689.8 L906.0 692.0 L904.7 694.3 L903.4 696.7 L902.1 699.2 L900.7 701.8 L899.3 704.4 L897.9 707.1 L896.5 709.8 L895.0 712.4 L893.6 715.0 L892.2 717.6 L890.8 720.2 L889.4 722.7 L888.0 725.3 L886.6 727.8 L885.2 730.3 L883.8 732.8 L882.4 735.3 L881.0 737.8 L879.6 740.2 L878.3 742.7 L876.9 745.1 L875.6 747.5 L874.4 750.0 L873.2 752.5 L871.9 755.0 L870.7 757.5 L869.5 760.0 L868.3 762.6 L867.1 765.1 L865.9 767.6 L864.7 770.1 L863.5 772.6 L862.3 775.2 L861.1 777.7 L859.9 780.3 L858.7 782.8 L857.6 785.3 L856.4 787.7 L855.2 790.2 L854.1 792.6 L852.9 795.1 L851.8 797.5 L850.7 800.0 L849.6 802.4 L848.5 805.0 L847.3 807.6 L846.2 810.2 L845.0 813.0 L843.7 815.8 L842.5 818.6 L841.3 821.5 L840.1 824.4 L838.9 827.3 L837.7 830.2 L836.6 833.1 L835.4 836.0 L834.3 838.9 L833.2 841.8 L832.1 844.7 L831.0 847.6 L830.0 850.4 L828.9 853.2 L827.9 855.9 L826.9 858.7 L826.0 861.4 L825.1 864.1 L824.2 866.8 L823.4 869.6 L822.6 872.3 L821.8 875.1 L820.9 878.1 L820.0 881.2 L819.1 884.5 L818.2 888.0 L817.4 891.5 L816.5 895.0 L815.8 898.4 L815.0 901.7 L814.4 904.8 L813.8 907.7 L813.2 910.3 L812.8 912.6 L812.3 914.4 L811.8 915.9 L811.4 917.0 L811.1 917.8 L810.8 918.4 L810.5 918.6 L810.2 918.8 L809.9 919.1 L809.7 919.5 L809.6 920.2 L809.5 921.1 L809.5 922.3 L809.5 923.3 L809.5 924.3 L809.5 925.3 L809.6 926.2 L809.7 927.2 L809.8 928.2 L810.0 929.2 L810.2 930.2 L810.4 931.1 L810.7 932.1 L811.0 933.0 L811.4 933.9 L812.0 934.7 L812.8 935.4 L813.6 936.2 L814.4 937.0 L815.3 937.8 L816.3 938.6 L817.3 939.4 L818.4 940.2 L819.5 940.9 L820.6 941.6 L821.8 942.3 L822.8 942.9 L823.9 943.4 L825.2 944.0 L826.7 944.6 L828.3 945.1 L830.1 945.7 L831.9 946.3 L833.7 946.8 L835.4 947.3 L837.1 947.8 L838.6 948.2 L840.0 948.6 L841.0 949.0 L839 955.5 C842.2 955.9 851.7 957.7 858.5 957.7 C865.3 957.8 867.6 959.0 880.0 955.8 C892.4 952.6 913.0 945.5 933.0 938.5 C953.0 931.5 979.5 921.6 1000.0 913.7 C1020.5 905.8 1027.7 902.2 1056.0 891.0 C1084.3 879.8 1135.7 861.4 1170.0 846.2 C1204.3 831.0 1235.8 824.4 1262.0 800.0 C1288.2 775.6 1310.7 728.3 1327.0 700.0 C1343.3 671.7 1353.0 645.8 1360.0 630.0 C1367.0 614.2 1366.8 614.2 1369.0 605.0 C1371.2 595.8 1372.5 585.8 1373.0 575.0 C1373.5 564.2 1373.2 551.7 1372.0 540.0 C1370.8 528.3 1368.0 515.8 1366.0 505.0 C1364.0 494.2 1361.5 483.3 1360.0 475.0 C1358.5 466.7 1357.5 458.3 1357.0 455.0 Z" fill="#24272a" />
<defs><clipPath id="lidclip"><path d="M1356.6 458.5 L1354.6 458.2 L1352.2 457.8 L1349.5 457.4 L1346.6 456.9 L1343.3 456.3 L1339.9 455.8 L1336.2 455.3 L1332.3 454.8 L1328.2 454.5 L1324.0 454.3 L1319.6 454.2 L1315.1 454.3 L1310.4 454.5 L1305.4 454.9 L1300.2 455.3 L1294.8 455.7 L1289.2 456.3 L1283.4 457.0 L1277.5 457.8 L1271.4 458.7 L1265.1 459.7 L1258.8 460.8 L1252.3 462.0 L1245.8 463.4 L1239.0 465.0 L1232.1 466.7 L1224.9 468.6 L1217.6 470.6 L1210.2 472.8 L1202.6 475.0 L1194.9 477.3 L1187.1 479.7 L1179.3 482.1 L1171.5 484.4 L1163.7 486.8 L1156.0 489.1 L1148.1 491.3 L1140.0 493.7 L1131.7 496.0 L1123.4 498.4 L1115.0 500.8 L1106.6 503.2 L1098.4 505.6 L1090.3 508.0 L1082.5 510.4 L1074.9 512.7 L1067.8 515.0 L1061.1 517.3 L1054.9 519.5 L1048.8 521.7 L1043.1 523.9 L1037.6 526.1 L1032.3 528.2 L1027.3 530.3 L1022.5 532.4 L1018.0 534.5 L1013.6 536.6 L1009.4 538.7 L1005.4 540.9 L1001.6 543.0 L998.0 545.2 L994.8 547.3 L991.8 549.4 L989.1 551.4 L986.5 553.5 L984.1 555.7 L981.8 557.8 L979.6 560.0 L977.4 562.2 L975.2 564.6 L972.9 567.0 L970.5 569.4 L968.2 571.9 L965.9 574.5 L963.7 577.1 L961.5 579.8 L959.3 582.5 L957.2 585.3 L955.1 588.1 L953.0 590.9 L954.7 596.5 L956.5 602.1 L954.5 604.9 L952.5 607.7 L950.6 610.4 L948.7 613.1 L946.8 615.8 L945.0 618.5 L943.2 621.2 L941.4 623.9 L939.7 626.5 L938.0 629.2 L936.4 631.8 L934.8 634.3 L933.3 636.9 L931.8 639.3 L930.4 641.8 L929.1 644.2 L927.7 646.7 L926.4 649.1 L925.2 651.6 L923.9 654.1 L922.7 656.5 L921.5 658.9 L920.4 661.3 L919.2 663.6 L918.1 665.9 L917.0 668.1 L916.1 670.1 L915.2 671.9 L914.5 673.5 L913.8 675.0 L913.2 676.5 L912.6 677.9 L912.0 679.3 L911.3 680.8 L910.7 682.3 L910.0 684.0 L909.2 685.8 L908.3 687.7 L907.2 689.8 L906.0 692.0 L904.7 694.3 L903.4 696.7 L902.1 699.2 L900.7 701.8 L899.3 704.4 L897.9 707.1 L896.5 709.8 L895.0 712.4 L893.6 715.0 L892.2 717.6 L890.8 720.2 L889.4 722.7 L888.0 725.3 L886.6 727.8 L885.2 730.3 L883.8 732.8 L882.4 735.3 L881.0 737.8 L879.6 740.2 L878.3 742.7 L876.9 745.1 L875.6 747.5 L874.4 750.0 L873.2 752.5 L871.9 755.0 L870.7 757.5 L869.5 760.0 L868.3 762.6 L867.1 765.1 L865.9 767.6 L864.7 770.1 L863.5 772.6 L862.3 775.2 L861.1 777.7 L859.9 780.3 L858.7 782.8 L857.6 785.3 L856.4 787.7 L855.2 790.2 L854.1 792.6 L852.9 795.1 L851.8 797.5 L850.7 800.0 L849.6 802.4 L848.5 805.0 L847.3 807.6 L846.2 810.2 L845.0 813.0 L843.7 815.8 L842.5 818.6 L841.3 821.5 L840.1 824.4 L838.9 827.3 L837.7 830.2 L836.6 833.1 L835.4 836.0 L834.3 838.9 L833.2 841.8 L832.1 844.7 L831.0 847.6 L830.0 850.4 L828.9 853.2 L827.9 855.9 L826.9 858.7 L826.0 861.4 L825.1 864.1 L824.2 866.8 L823.4 869.6 L822.6 872.3 L821.8 875.1 L820.9 878.1 L820.0 881.2 L819.1 884.5 L818.2 888.0 L817.4 891.5 L816.5 895.0 L815.8 898.4 L815.0 901.7 L814.4 904.8 L813.8 907.7 L813.2 910.3 L812.8 912.6 L812.3 914.4 L811.8 915.9 L811.4 917.0 L811.1 917.8 L810.8 918.4 L810.5 918.6 L810.2 918.8 L809.9 919.1 L809.7 919.5 L809.6 920.2 L809.5 921.1 L809.5 922.3 L809.5 923.3 L809.5 924.3 L809.5 925.3 L809.6 926.2 L809.7 927.2 L809.8 928.2 L810.0 929.2 L810.2 930.2 L810.4 931.1 L810.7 932.1 L811.0 933.0 L811.4 933.9 L812.0 934.7 L812.8 935.4 L813.6 936.2 L814.4 937.0 L815.3 937.8 L816.3 938.6 L817.3 939.4 L818.4 940.2 L819.5 940.9 L820.6 941.6 L821.8 942.3 L822.8 942.9 L823.9 943.4 L825.2 944.0 L826.7 944.6 L828.3 945.1 L830.1 945.7 L831.9 946.3 L833.7 946.8 L835.4 947.3 L837.1 947.8 L838.6 948.2 L840.0 948.6 L841.0 949.0 L839 955.5 C842.2 955.9 851.7 957.7 858.5 957.7 C865.3 957.8 867.6 959.0 880.0 955.8 C892.4 952.6 913.0 945.5 933.0 938.5 C953.0 931.5 979.5 921.6 1000.0 913.7 C1020.5 905.8 1027.7 902.2 1056.0 891.0 C1084.3 879.8 1135.7 861.4 1170.0 846.2 C1204.3 831.0 1235.8 824.4 1262.0 800.0 C1288.2 775.6 1310.7 728.3 1327.0 700.0 C1343.3 671.7 1353.0 645.8 1360.0 630.0 C1367.0 614.2 1366.8 614.2 1369.0 605.0 C1371.2 595.8 1372.5 585.8 1373.0 575.0 C1373.5 564.2 1373.2 551.7 1372.0 540.0 C1370.8 528.3 1368.0 515.8 1366.0 505.0 C1364.0 494.2 1361.5 483.3 1360.0 475.0 C1358.5 466.7 1357.5 458.3 1357.0 455.0 Z"/></clipPath></defs>
<defs><linearGradient id="beam" x1="1150" y1="0" x2="1365" y2="0" gradientUnits="userSpaceOnUse"><stop offset="0" stop-color="#66696d"/><stop offset="0.5" stop-color="#3a3c3f"/><stop offset="1" stop-color="#1b1c1e"/></linearGradient></defs>
<path d="M1213.5 467.3 L1151 684.6 L1275.8 772 L1305 735.5 L1330 690 L1362 628 L1372 605 L1376 570 L1373 530 L1366 490 L1357 456 L1300 448 Z" fill="url(#beam)" clip-path="url(#lidclip)"/>
<g clip-path="url(#lidclip)">
<path d="M820 790 L859.5 783 L927 761 L1151 684.6 L1223.75 736.7 L1275.8 772 L1247 807.5 L1205 830.4 L1140 854.6 L1119.6 862 L1119.6 814.8 L970 873 L876 872.8 L827.4 862 L800 860 Z" fill="#898c90"/>
<path d="M930 760 L1119.6 700 L1119.6 814.8 L970 873 L876 872.8 L827.4 862 L800 860 L800 836 L900 838 L930 820 Z" fill="#7e8185"/>
<path d="M800 860 L827.4 862 L876 872.8 L970 873 L1119.6 814.8 L1119.6 862 L1140 854.6 L1140 1000 L790 1000 Z" fill="#1b1b1d"/>
</g>
<path d="M877.0 778.0 C874.2 785.0 865.3 805.3 860.0 820.0 C854.7 834.7 848.7 853.7 845.0 866.0 C841.3 878.3 837.2 886.2 838.0 894.0 C838.8 901.8 843.7 908.0 850.0 913.0 C856.3 918.0 865.7 922.2 876.0 924.0 C886.3 925.8 897.3 926.1 912.0 924.0 C926.7 921.9 949.3 916.1 964.0 911.6 C978.7 907.1 974.2 907.8 1000.0 897.0 C1025.8 886.2 1099.2 855.3 1119.0 847.0" fill="none" stroke="#3e4043" stroke-width="1.5" stroke-dasharray="5 3" clip-path="url(#lidclip)"/>
<path d="M1119.6 845.0 C1133.8 840.1 1180.3 828.3 1205.0 815.8 C1229.7 803.3 1251.7 786.8 1267.5 770.0 C1283.3 753.2 1290.9 730.8 1300.0 715.0 C1309.1 699.2 1318.3 681.7 1322.0 675.0" fill="none" stroke="#2b2c2e" stroke-width="1.5" stroke-dasharray="6 3"/>
<path d="M0.0 0.0 C0.0 0.0 0.0 0.0 0.0 0.0" fill="none" stroke="#2b2c2e" stroke-width="1.5" stroke-dasharray="6 3"/>
<g clip-path="url(#lidclip)">
<path d="M840 678 L922 656 L1034.6 626 L1132 602 C1138 601 1140 604 1139 609 L1121 676.5 L1100 690 L945 750.5 L927 761 L859.5 783 L830 790 Z" fill="#1e2022"/>
<path d="M840 703 L1133 626 L1138 603 L1034.6 626 L922 656 L840 678 Z" fill="#18191b"/>
<path d="M860 673 L922 656 L1034.6 626 L1132 602 C1138 601 1140 604 1139 609 L1121 680" fill="none" stroke="#000" stroke-width="3.5"/>
<path d="M850 701.5 L1133 625.5" fill="none" stroke="#000" stroke-width="4"/>
<path d="M860 679 L1132 610" fill="none" stroke="#000" stroke-width="2.2" stroke-dasharray="7 5"/>
<path d="M850 706 L1130 631" fill="none" stroke="#000" stroke-width="2.2" stroke-dasharray="7 5"/>
<path d="M993 662 L1004 733 L1012 732 L1003 660 Z" fill="#111214"/>
</g>
<path d="M850 782 L943 748" stroke="#000" stroke-width="3" clip-path="url(#lidclip)"/>
<defs><clipPath id="lozclip"><path d="M876 854 C884 826 900 790 927 762 C931 757 935 753 940 751 C1040 712 1150 673 1250 640 C1262 636 1268 641 1265 652 C1258 682 1243 714 1217 745 C1205 757 1180 764 1150 775 L884 869 C872 873 871 865 876 854 Z"/></clipPath></defs>
<path d="M876 854 C884 826 900 790 927 762 C931 757 935 753 940 751 C1040 712 1150 673 1250 640 C1262 636 1268 641 1265 652 C1258 682 1243 714 1217 745 C1205 757 1180 764 1150 775 L884 869 C872 873 871 865 876 854 Z" fill="#4b4e52"/>
<path d="M884 869 C872 873 871 865 876 854 C884 826 900 790 927 762 C931 757 935 753 940 751 C1040 712 1150 673 1250 640" fill="none" stroke="#3b3e41" stroke-width="22" clip-path="url(#lozclip)"/>
<path d="M1151 684.6 L1224 738 L1276 772 L1300 600 L1160 600 Z" fill="#393b3e" clip-path="url(#lozclip)"/>
<path d="M888 862 C895 832 910 797 936 771 C1040 728 1150 690 1240 659 C1250 656 1252 660 1250 668 C1245 694 1232 720 1210 742" fill="none" stroke="#141517" stroke-width="1.8" stroke-dasharray="6 4"/>
<path d="M876 854 C884 826 900 790 927 762 C931 757 935 753 940 751 C1040 712 1150 673 1250 640 C1262 636 1268 641 1265 652 C1258 682 1243 714 1217 745 C1205 757 1180 764 1150 775 L884 869 C872 873 871 865 876 854 Z" fill="none" stroke="#000" stroke-width="4"/>
<path d="M962.3 598.3 L1321.4 499.8 L1209 467.4 L1115.8 483.4 L1227 452 L1353.5 488.2 L1354.5 509.2 L962.3 614 Z" fill="#a9333a" clip-path="url(#d1clip)"/>
<circle cx="1019.9" cy="592" r="5.5" fill="#48494c" stroke="#2a2a2c" stroke-width="1.5"/>
<circle cx="1178" cy="547.9" r="5.5" fill="#48494c" stroke="#2a2a2c" stroke-width="1.5"/>
<circle cx="1316" cy="511" r="5.5" fill="#48494c" stroke="#2a2a2c" stroke-width="1.5"/>
<path d="M1200 495.5 L1262 483" stroke="#2a2b2e" stroke-width="1.6" stroke-dasharray="6 4"/>
<path d="M1354.0 510.0 C1354.7 518.3 1358.7 541.7 1358.0 560.0 C1357.3 578.3 1356.0 600.0 1350.0 620.0 C1344.0 640.0 1326.7 670.0 1322.0 680.0" fill="none" stroke="#3a3b3e" stroke-width="1.3" stroke-dasharray="4 3"/>
<circle cx="1159.7" cy="493.2" r="7" fill="#fff" stroke="#5e5535" stroke-width="3.5"/>
<circle cx="1021" cy="527" r="6.5" fill="#fff" stroke="#5e5535" stroke-width="3" clip-path="url(#d1clip)"/>
<path d="M995 540 L1048 517" stroke="#000" stroke-width="6"/>
<path d="M993 652 L1004 662 L1011 722 L999 727 Z" fill="#131416" clip-path="url(#lidclip)"/>
<ellipse cx="987.7" cy="618" rx="26" ry="18.5" fill="#1d1f21" stroke="#000" stroke-width="2"/>
<ellipse cx="987.4" cy="617.5" rx="20.5" ry="15.5" fill="#a9abae" stroke="#000" stroke-width="1.2"/>
<ellipse cx="988" cy="615" rx="13" ry="10" fill="#8c8e91" stroke="#000" stroke-width="2.5"/>
<ellipse cx="1014" cy="659" rx="9" ry="27" transform="rotate(34 1014 659)" fill="#2a2b2e" stroke="#000" stroke-width="5"/>
<ellipse cx="1014" cy="659" rx="9" ry="27" transform="rotate(34 1014 659)" fill="none" stroke="#c9cacc" stroke-width="2.2"/>
<path d="M986 611 L992 606 L1006 614 L1001 622 Z" fill="#b8babd" stroke="#000" stroke-width="2"/>
<path d="M1000 614 L1019 625 L1018.5 649 L1009 646 L1000 634 Z" fill="#b8babd" stroke="#000" stroke-width="2"/>
<path d="M1010 631 L1015.5 634 L1016 646 L1011 643 Z" fill="#2a2b2e"/>
<path d="M1006 680 C1004 672 1010 666 1016 668 C1022 670 1023 676 1021 684 L1020 705 L1018 736 L1013 739 L1011 725 L1009 705 Z" fill="#b8babd" stroke="#000" stroke-width="2"/>
<path d="M1008 703 H1021" stroke="#000" stroke-width="1.5"/>
<path d="M947 757 L972 770 L992 786 C996 791 992 798 986 795 L966 784 L942 770 Z" fill="#9a9da1" stroke="#000" stroke-width="1.6"/>
<path d="M958 773 L966 784" stroke="#000" stroke-width="1.6"/>
<ellipse cx="945" cy="761" rx="9" ry="8" fill="#a0a3a6" stroke="#000" stroke-width="1.6"/>
<ellipse cx="954" cy="764" rx="6" ry="5" fill="#55585c" stroke="#000" stroke-width="1.6"/>
<path d="M1367 603 L1378 607 L1374.5 623 L1365 617 Z" fill="#fff"/>
<path d="M1380 602 L1373 626" stroke="#000" stroke-width="3.5"/>
<path d="M830 955 C831.5 955.1 834.2 955.0 839.0 955.5 C843.8 956.0 851.7 957.7 858.5 957.7 C865.3 957.8 867.6 959.0 880.0 955.8 C892.4 952.6 913.0 945.5 933.0 938.5 C953.0 931.5 979.5 921.6 1000.0 913.7 C1020.5 905.8 1027.7 902.2 1056.0 891.0 C1084.3 879.8 1135.7 861.4 1170.0 846.2 C1204.3 831.0 1235.8 824.4 1262.0 800.0 C1288.2 775.6 1310.7 728.3 1327.0 700.0 C1343.3 671.7 1353.0 645.8 1360.0 630.0 C1367.0 614.2 1366.8 614.2 1369.0 605.0 C1371.2 595.8 1372.5 585.8 1373.0 575.0 C1373.5 564.2 1373.2 551.7 1372.0 540.0 C1370.8 528.3 1368.0 515.8 1366.0 505.0 C1364.0 494.2 1361.5 483.3 1360.0 475.0 C1358.5 466.7 1357.5 458.3 1357.0 455.0" fill="none" stroke="#000" stroke-width="11" clip-path="url(#lidouter)"/>

</g>
<defs><clipPath id="latchclip"><circle cx="871" cy="329" r="83"/></clipPath>
<filter id="noise" x="0" y="0" width="100%" height="100%" color-interpolation-filters="sRGB"><feTurbulence type="fractalNoise" baseFrequency="0.9" numOctaves="2" seed="3" result="n"/><feColorMatrix type="matrix" values="0 0 0 0 0.1  0 0 0 0 0.1  0 0 0 0 0.11  0 0 0 -2 1.4"/><feComposite in2="SourceGraphic" operator="in"/></filter></defs>
<g clip-path="url(#latchclip)">
<rect x="780" y="240" width="185" height="180" fill="#232426"/>
<rect x="780" y="240" width="185" height="18" fill="#9d9fa2"/>
<rect x="780" y="257" width="185" height="12" fill="#2c2d2f"/>
<path d="M780 268.5 H965" stroke="#0c0c0d" stroke-width="2"/>
<path d="M780 276.5 H965" stroke="#0c0c0d" stroke-width="2"/>
<rect x="780" y="285" width="185" height="45" fill="#18191b"/>
<path d="M780 288.5 L965 283.5" stroke="#5f6164" stroke-width="1.8"/>
<path d="M780 325 C820 326 880 330 925 345 C935 338 942 326 960 318 L965 318 L965 420 L780 420 Z" fill="#343538"/>
<path d="M780 325 C820 326 880 330 925 345 C935 338 942 326 960 318 L965 318 L965 420 L780 420 Z" fill="#000" opacity="0.5" filter="url(#noise)"/>
<path d="M818 345 C807 345 805 328 818 325 C850 321 872 318 888 315 C900 304 926 305 929.5 322 C932 338 922 346 912 345 Z" fill="#38393c" stroke="#58595c" stroke-width="2.2"/>
</g>
<circle cx="871" cy="329" r="84" fill="none" stroke="#000" stroke-width="4.5"/>
<defs><clipPath id="qdclip"><circle cx="589" cy="663" r="121.5"/></clipPath></defs>
<g clip-path="url(#qdclip)">
<rect x="460" y="535" width="260" height="255" fill="#fff"/>
<rect x="460" y="535" width="260" height="70" fill="#424345"/>
<rect x="460" y="535" width="260" height="70" fill="#000" opacity="0.5" filter="url(#noise)"/>
<path d="M460 578 L500 581 L523 594 L656 595 L677 585 L720 582 L720 743 L460 743 Z" fill="#262729"/>
<path d="M460 735 H720 V745 H460 Z" fill="#2e2f31"/>
<polygon points="636,620 647,607 670,610 674,620 664,632 640,632" fill="#3d3e40"/>
<polygon points="636,620 647,607 670,610 674,620 664,632 640,632" fill="#000" opacity="0.5" filter="url(#noise)"/>
<polygon points="510,705 522,690 548,690 551,705 541,720 514,720" fill="#3d3e40"/>
<polygon points="510,705 522,690 548,690 551,705 541,720 514,720" fill="#000" opacity="0.5" filter="url(#noise)"/>
<polygon points="632,705 642,690 666,692 677,707 669,722 640,722" fill="#3d3e40"/>
<polygon points="632,705 642,690 666,692 677,707 669,722 640,722" fill="#000" opacity="0.5" filter="url(#noise)"/>
<path d="M487 628 L560 626 C566 626 569 630 569 636 L571 668 C571 676 566 680 560 680 L492 681 C484 681 480 676 481 668 L482 636 C482 631 484 628 487 628 Z" fill="#48494c" stroke="#2a2b2d" stroke-width="1.5"/>
<path d="M640 645 L700 645 C703 645 705 648 704 652 L702 676 C702 679 700 681 697 681 L640 681 C636 681 634 678 635 675 L636 650 C636 647 637 645 640 645 Z" fill="#48494c" stroke="#2a2b2d" stroke-width="1.5"/>
<path d="M566 697 L622 697 C625 697 627 700 627 703 L626 726 C626 729 624 731 621 731 L568 731 C565 731 563 729 563 726 L563 701 C563 699 564 697 566 697 Z" fill="#48494c" stroke="#2a2b2d" stroke-width="1.5"/>
<path d="M657 673 c0 -12 14 -14 18 -4 l4 14 h-6 l-3 -9 c-2 -4 -7 -3 -7 1 z" fill="#2f3032" stroke="#1b1b1d" stroke-width="1"/>
<path d="M584 724 c0 -12 14 -14 18 -4 l4 14 h-6 l-3 -9 c-2 -4 -7 -3 -7 1 z" fill="#2f3032" stroke="#1b1b1d" stroke-width="1"/>
<circle cx="513" cy="657" r="6" fill="#1c1c1e"/>
<circle cx="497" cy="641" r="2.6" fill="#1f2022" stroke="#5a5b5e" stroke-width="0.8"/>
<circle cx="493" cy="666" r="2.6" fill="#1f2022" stroke="#5a5b5e" stroke-width="0.8"/>
<circle cx="554" cy="633" r="2.6" fill="#1f2022" stroke="#5a5b5e" stroke-width="0.8"/>
<circle cx="559" cy="672" r="2.6" fill="#1f2022" stroke="#5a5b5e" stroke-width="0.8"/>
<circle cx="646" cy="649" r="2.6" fill="#1f2022" stroke="#5a5b5e" stroke-width="0.8"/>
<circle cx="697" cy="650" r="2.6" fill="#1f2022" stroke="#5a5b5e" stroke-width="0.8"/>
<circle cx="641" cy="675" r="2.6" fill="#1f2022" stroke="#5a5b5e" stroke-width="0.8"/>
<circle cx="700" cy="677" r="2.6" fill="#1f2022" stroke="#5a5b5e" stroke-width="0.8"/>
<circle cx="568" cy="702" r="2.6" fill="#1f2022" stroke="#5a5b5e" stroke-width="0.8"/>
<circle cx="619" cy="701" r="2.6" fill="#1f2022" stroke="#5a5b5e" stroke-width="0.8"/>
<circle cx="570" cy="728" r="2.6" fill="#1f2022" stroke="#5a5b5e" stroke-width="0.8"/>
<circle cx="622" cy="727" r="2.6" fill="#1f2022" stroke="#5a5b5e" stroke-width="0.8"/>
<circle cx="490" cy="600" r="7" fill="#1e1f21" stroke="#3a3b3d" stroke-width="1.5"/>
<circle cx="489" cy="715" r="7" fill="#1e1f21" stroke="#3a3b3d" stroke-width="1.5"/>
<circle cx="688" cy="600" r="7" fill="#1e1f21" stroke="#3a3b3d" stroke-width="1.5"/>
<circle cx="694" cy="714" r="7" fill="#1e1f21" stroke="#3a3b3d" stroke-width="1.5"/>
<path d="M534 624 C540 640 548 670 552 690 C556 710 562 730 566 742 C570 748 574 750 580 752" fill="none" stroke="#111" stroke-width="2.6"/>
<path d="M577 748 L601 746 L608 752 L603 759 L580 760 Z" fill="#1a1a1c"/>
</g>
<circle cx="589" cy="663" r="122.5" fill="none" stroke="#000" stroke-width="4.5"/>
<path d="M1050 363 C1050 358 1054 356.5 1058 356.5 L1077 356.5 C1081 356.5 1084 358 1084 363 L1084 386 C1084 390 1082 392.5 1078 392.5 L1056 392.5 C1052 392.5 1050 390 1050 386 Z" fill="#5b5868"/>
<rect x="1057" y="363.5" width="20" height="7.5" rx="2.5" fill="#fff"/>
<rect x="1058.5" y="373" width="17.5" height="14.5" fill="#2f2b3d"/>
<path d="M1059.5 392.5 H1073.5 V398 L1072 402 V414 H1061 V404 L1059.5 400 Z" fill="#9d9ba5"/>
<path d="M1064 394 V414 M1068 394 V414" stroke="#6e6c77" stroke-width="1.2"/>
<path d="M1048 424 C1046 418 1054 414 1062 413 L1074 413 C1082 414 1092 418 1090 424 C1088 426 1050 426 1048 424 Z" fill="#d4d4d6"/>
<circle cx="1068" cy="393.5" r="44" fill="none" stroke="#000" stroke-width="4"/>
<circle cx="1068" cy="393.5" r="44" fill="none" stroke="#fff" stroke-width="4.5" clip-path="url(#silclip)"/>
<!-- CALLOUT LINES outside bag -->
<g stroke="#000" stroke-width="4" fill="none">
<path d="M868 128 V243"/>
<path d="M1411 257 H1069 V347"/>
<path d="M519 467 H845"/>
<path d="M383 656 H465"/>
<path d="M1676 481 V631 H1360"/>
<path d="M1472 733 H1300"/>
<path d="M407 920 V827 H735"/>
<path d="M1245 958 H982 V915"/>
</g>
<!-- white lines inside bag -->
<g stroke="#fff" stroke-width="4.5" fill="none">
<path d="M835 467 H1033 V491"/>
<path d="M1033 514 V539"/>
<path d="M1096 631 H1362"/>
<path d="M1191.5 733 H1305"/>
<path d="M720 827 H749"/>
<path d="M982 645 V918"/>
</g>
<g fill="none" stroke="#fff" stroke-width="4.5">
<circle cx="1032.5" cy="503" r="10.2"/>
<circle cx="1034" cy="556" r="15"/>
<circle cx="1082.8" cy="631.2" r="11.9"/>
<circle cx="1179.5" cy="733" r="10.5"/>
<circle cx="761.3" cy="826.5" r="14.4"/>
<circle cx="982" cy="635" r="7.5"/>
</g>

<!-- FLAG -->
<g>
<rect x="770.8" y="1122.8" width="86" height="52" fill="#fff"/>
<rect x="770.8" y="1122.8" width="86" height="3.6" fill="#e3121f"/>
<rect x="770.8" y="1130.9" width="86" height="3.6" fill="#e3121f"/>
<rect x="770.8" y="1138.9" width="86" height="3.6" fill="#e3121f"/>
<rect x="770.8" y="1147.0" width="86" height="3.6" fill="#e3121f"/>
<rect x="770.8" y="1155.1" width="86" height="3.6" fill="#e3121f"/>
<rect x="770.8" y="1163.1" width="86" height="3.6" fill="#e3121f"/>
<rect x="770.8" y="1171.2" width="86" height="3.6" fill="#e3121f"/>
<rect x="770.8" y="1122.8" width="34.4" height="27.7" fill="#142a8c"/>
<g fill="#fff"><circle cx="773.8" cy="1125.2" r="1.15"/><circle cx="779.4" cy="1125.2" r="1.15"/><circle cx="785.1" cy="1125.2" r="1.15"/><circle cx="790.8" cy="1125.2" r="1.15"/><circle cx="796.4" cy="1125.2" r="1.15"/><circle cx="802.0" cy="1125.2" r="1.15"/><circle cx="776.6" cy="1128.0" r="1.15"/><circle cx="782.2" cy="1128.0" r="1.15"/><circle cx="787.9" cy="1128.0" r="1.15"/><circle cx="793.6" cy="1128.0" r="1.15"/><circle cx="799.2" cy="1128.0" r="1.15"/><circle cx="773.8" cy="1130.9" r="1.15"/><circle cx="779.4" cy="1130.9" r="1.15"/><circle cx="785.1" cy="1130.9" r="1.15"/><circle cx="790.8" cy="1130.9" r="1.15"/><circle cx="796.4" cy="1130.9" r="1.15"/><circle cx="802.0" cy="1130.9" r="1.15"/><circle cx="776.6" cy="1133.8" r="1.15"/><circle cx="782.2" cy="1133.8" r="1.15"/><circle cx="787.9" cy="1133.8" r="1.15"/><circle cx="793.6" cy="1133.8" r="1.15"/><circle cx="799.2" cy="1133.8" r="1.15"/><circle cx="773.8" cy="1136.6" r="1.15"/><circle cx="779.4" cy="1136.6" r="1.15"/><circle cx="785.1" cy="1136.6" r="1.15"/><circle cx="790.8" cy="1136.6" r="1.15"/><circle cx="796.4" cy="1136.6" r="1.15"/><circle cx="802.0" cy="1136.6" r="1.15"/><circle cx="776.6" cy="1139.5" r="1.15"/><circle cx="782.2" cy="1139.5" r="1.15"/><circle cx="787.9" cy="1139.5" r="1.15"/><circle cx="793.6" cy="1139.5" r="1.15"/><circle cx="799.2" cy="1139.5" r="1.15"/><circle cx="773.8" cy="1142.3" r="1.15"/><circle cx="779.4" cy="1142.3" r="1.15"/><circle cx="785.1" cy="1142.3" r="1.15"/><circle cx="790.8" cy="1142.3" r="1.15"/><circle cx="796.4" cy="1142.3" r="1.15"/><circle cx="802.0" cy="1142.3" r="1.15"/><circle cx="776.6" cy="1145.2" r="1.15"/><circle cx="782.2" cy="1145.2" r="1.15"/><circle cx="787.9" cy="1145.2" r="1.15"/><circle cx="793.6" cy="1145.2" r="1.15"/><circle cx="799.2" cy="1145.2" r="1.15"/><circle cx="773.8" cy="1148.0" r="1.15"/><circle cx="779.4" cy="1148.0" r="1.15"/><circle cx="785.1" cy="1148.0" r="1.15"/><circle cx="790.8" cy="1148.0" r="1.15"/><circle cx="796.4" cy="1148.0" r="1.15"/><circle cx="802.0" cy="1148.0" r="1.15"/></g>
</g>
<g font-family="Liberation Sans" font-weight="bold" font-size="51.2" fill="#000" stroke="#000" stroke-width="1.1" vector-effect="non-scaling-stroke">
<text transform="scale(0.596 1)" x="1211.41" y="113.8" textLength="474.83" lengthAdjust="spacing" word-spacing="-7">Lid Release Latch</text>
<text transform="scale(0.589 1)" x="2432.94" y="273.2" textLength="362.48" lengthAdjust="spacing" word-spacing="-7">Key Lockable</text>
<text transform="scale(0.618 1)" x="538.03" y="457.0" textLength="274.27" lengthAdjust="spacing" word-spacing="-7">Hard Shell</text>
<text transform="scale(0.574 1)" x="579.27" y="501.6" textLength="287.46" lengthAdjust="spacing" word-spacing="-7">Lid &amp; Body</text>
<text transform="scale(0.614 1)" x="2480.46" y="464.9" textLength="486.16" lengthAdjust="spacing" word-spacing="-7">Internal Organizer</text>
<text transform="scale(0.580 1)" x="148.28" y="670.9" textLength="478.45" lengthAdjust="spacing" word-spacing="-7">Quick Disconnect</text>
<text transform="scale(0.600 1)" x="145.00" y="715.9" textLength="198.33" lengthAdjust="spacing" word-spacing="-7">System</text>
<text transform="scale(0.583 1)" x="2558.32" y="729.8" textLength="364.49" lengthAdjust="spacing" word-spacing="-7">Quick Access</text>
<text transform="scale(0.606 1)" x="2459.57" y="774.7" textLength="424.09" lengthAdjust="spacing" word-spacing="-7">External Pocket</text>
<text transform="scale(0.598 1)" x="420.57" y="969.0" textLength="493.31" lengthAdjust="spacing" word-spacing="-7">Weather Resistant</text>
<text transform="scale(0.600 1)" x="2105.00" y="952.1" textLength="439.17" lengthAdjust="spacing" word-spacing="-7">Bracket Locking</text>
<text transform="scale(0.605 1)" x="2089.26" y="996.9" textLength="200.00" lengthAdjust="spacing" word-spacing="-7">System</text>
<text transform="scale(0.629 1)" x="1438.79" y="1165.0" textLength="598.57" lengthAdjust="spacing" word-spacing="-7">American Engineering</text>
</g>

</svg>
</body></html>
